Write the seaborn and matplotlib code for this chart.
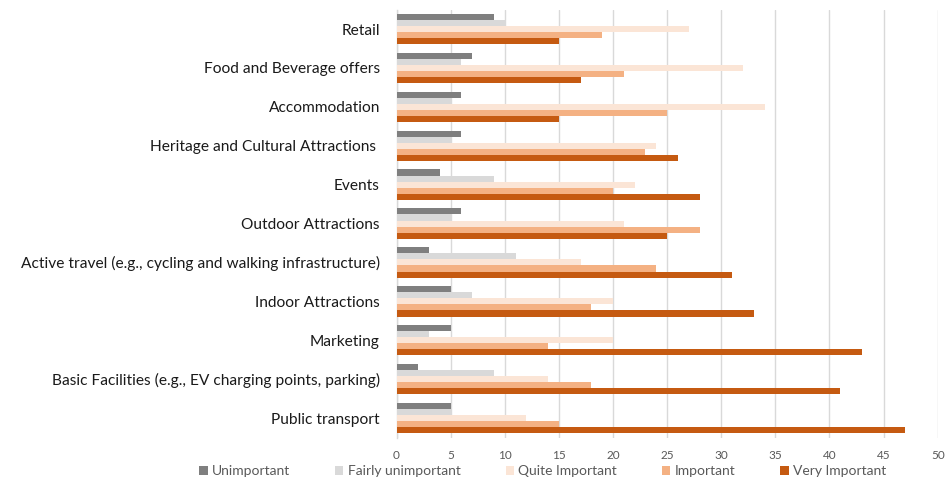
import matplotlib
matplotlib.use("Agg")
import matplotlib.pyplot as plt
import seaborn as sns
import pandas as pd

categories = [
    "Retail",
    "Food and Beverage offers",
    "Accommodation",
    "Heritage and Cultural Attractions ",
    "Events",
    "Outdoor Attractions",
    "Active travel (e.g., cycling and walking infrastructure)",
    "Indoor Attractions",
    "Marketing",
    "Basic Facilities (e.g., EV charging points, parking)",
    "Public transport",
]
levels = ["Unimportant", "Fairly unimportant", "Quite Important", "Important", "Very Important"]

unimportant = [9, 7, 6, 6, 4, 6, 3, 5, 5, 2, 5]
fairly_unimportant = [10, 6, 5, 5, 9, 5, 11, 7, 3, 9, 5]
quite_important = [27, 32, 34, 24, 22, 21, 17, 20, 20, 14, 12]
important = [19, 21, 25, 23, 20, 28, 24, 18, 14, 18, 15]
very_important = [15, 17, 15, 26, 28, 25, 31, 33, 43, 41, 47]

x_ticks = [0, 5, 10, 15, 20, 25, 30, 35, 40, 45, 50]

colors = ["#7F7F7F", "#D9D9D9", "#FBE5D6", "#F4B183", "#C55A11"]

series = [unimportant, fairly_unimportant, quite_important, important, very_important]
rows = []
for level, vals in zip(levels, series):
    for cat, v in zip(categories, vals):
        rows.append({"Category": cat, "Level": level, "Count": v})
df = pd.DataFrame(rows)

sns.set_theme(style="white")
plt.rcParams["font.family"] = ["Lato", "DejaVu Sans"]

fig = plt.figure(figsize=(9.52, 4.79), dpi=100)
ax = fig.add_axes([0.4165, 0.0866, 0.985 - 0.4165, 0.98 - 0.0866])

sns.barplot(
    data=df, y="Category", x="Count", hue="Level",
    order=categories, hue_order=levels, palette=colors,
    orient="h", width=0.78, saturation=1, linewidth=0,
    legend=True, ax=ax, zorder=3,
)

ax.set_xlim(0, 50)
ax.set_xticks(x_ticks)
ax.set_xticklabels([str(t) for t in x_ticks])
ax.set_xlabel("")
ax.set_ylabel("")
ax.grid(axis="x", color="#D9D9D9", linewidth=1, zorder=0)
ax.grid(axis="y", visible=False)
for side in ["top", "right", "bottom"]:
    ax.spines[side].set_visible(False)
ax.spines["left"].set_color("#D9D9D9")
ax.spines["left"].set_linewidth(1)
ax.tick_params(axis="y", length=0, pad=12, labelsize=11.2, labelcolor="#1a1a1a")
ax.tick_params(axis="x", length=0, pad=9, labelsize=8.5, labelcolor="#595959")

handles, labels = ax.get_legend_handles_labels()
ax.get_legend().remove()
fig.legend(
    handles, labels, loc="center", bbox_to_anchor=(0.57, 0.016), ncol=5,
    frameon=False, fontsize=10, handlelength=0.6, handleheight=0.6,
    handletextpad=0.3, columnspacing=3.25, labelcolor="#595959",
    borderaxespad=0,
)

fig.savefig("out.png", dpi=100)
